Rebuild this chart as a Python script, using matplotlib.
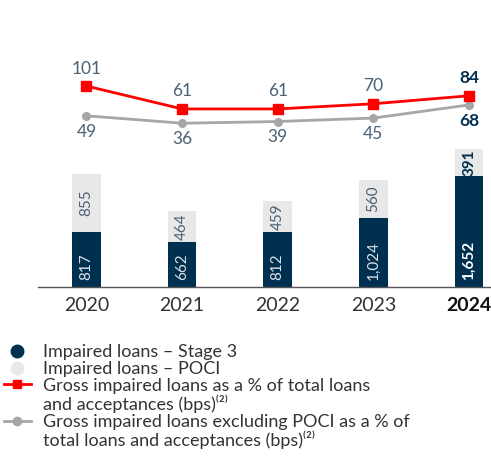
import matplotlib
matplotlib.use("Agg")
import matplotlib.pyplot as plt
from matplotlib.lines import Line2D
import numpy as np

plt.rcParams['font.family'] = ['Lato', 'DejaVu Sans']

years = ["2020", "2021", "2022", "2023", "2024"]
stage3 = [817, 662, 812, 1024, 1652]
poci = [855, 464, 459, 560, 391]
gross_bps = [101, 61, 61, 70, 84]
excl_poci_bps = [49, 36, 39, 45, 68]

NAVY = "#00304f"
LIGHT = "#e8e8e8"
RED = "#ff0000"
GREY = "#a6a6a6"
SLATE = "#4a6076"

fig = plt.figure(figsize=(4.91, 4.57), dpi=100)
ax = fig.add_axes([38 / 491, 170 / 457, 452 / 491, 247 / 457])
ax2 = ax.twinx()

x = np.arange(len(years))
w = 0.30
ax.bar(x, stage3, width=w, color=NAVY, zorder=2)
ax.bar(x, poci, width=w, bottom=stage3, color=LIGHT, zorder=2)

ax.set_xlim(-0.507, 4.22)
ax.set_ylim(0, 3665)
ax2.set_ylim(-250.3, 181.5)

last = len(years) - 1
for i in x:
    bold = i == last
    ax.annotate(f"{stage3[i]:,}", (i, 0), xytext=(0, 5), textcoords="offset points",
                rotation=90, ha="center", va="bottom", fontsize=11,
                color="white" if bold else "#dde3ea",
                fontweight="bold" if bold else "normal")
    ax.text(i, stage3[i] + poci[i] / 2, f"{poci[i]:,}", rotation=90,
            ha="center", va="center", fontsize=11,
            color=NAVY if bold else SLATE,
            fontweight="bold" if bold else "normal")

ax2.plot(x, gross_bps, color=RED, lw=2, marker="s", ms=6.5, zorder=4)
ax2.plot(x, excl_poci_bps, color=GREY, lw=2, marker="o", ms=5.5, zorder=3)
for i in x:
    bold = i == last
    ax2.annotate(f"{gross_bps[i]}", (i, gross_bps[i]), xytext=(0, 12.6),
                 textcoords="offset points", ha="center", va="center",
                 fontsize=12.5, color=NAVY if bold else SLATE,
                 fontweight="bold" if bold else "normal")
    ax2.annotate(f"{excl_poci_bps[i]}", (i, excl_poci_bps[i]), xytext=(0, -11.5),
                 textcoords="offset points", ha="center", va="center",
                 fontsize=12.5, color=NAVY if bold else SLATE,
                 fontweight="bold" if bold else "normal")

ax.set_xticks(x)
ax.set_xticklabels(years, fontsize=14, color="#333333")
ax.get_xticklabels()[last].set_fontweight("bold")
ax.get_xticklabels()[last].set_color("#111111")
ax.tick_params(axis="x", length=0, pad=7)
ax.set_yticks([])
ax2.set_yticks([])
for a in (ax, ax2):
    for s in ("top", "right", "left", "bottom"):
        a.spines[s].set_visible(False)
ax.spines["bottom"].set_visible(True)
ax.spines["bottom"].set_color("#555555")
ax.spines["bottom"].set_linewidth(1)

blank = Line2D([], [], linestyle="none")
handles = [
    Line2D([], [], linestyle="none", marker="o", ms=9, color=NAVY),
    Line2D([], [], linestyle="none", marker="o", ms=9, color=LIGHT),
    Line2D([], [], color=RED, lw=2, marker="s", ms=6),
    blank,
    Line2D([], [], color=GREY, lw=2, marker="o", ms=6),
    blank,
]
labels = [
    "Impaired loans \u2013 Stage 3",
    "Impaired loans \u2013 POCI",
    "Gross impaired loans as a % of total loans",
    "and acceptances (bps)\u207d\u00b2\u207e",
    "Gross impaired loans excluding POCI as a % of",
    "total loans and acceptances (bps)\u207d\u00b2\u207e",
]
fig.legend(handles, labels, loc="upper left", bbox_to_anchor=(0.0, 0.255),
           frameon=False, fontsize=13, handlelength=1.5, handletextpad=0.7,
           labelspacing=0.045, labelcolor="#333333", borderaxespad=0, borderpad=0.2)

fig.savefig("out.png", dpi=100)
